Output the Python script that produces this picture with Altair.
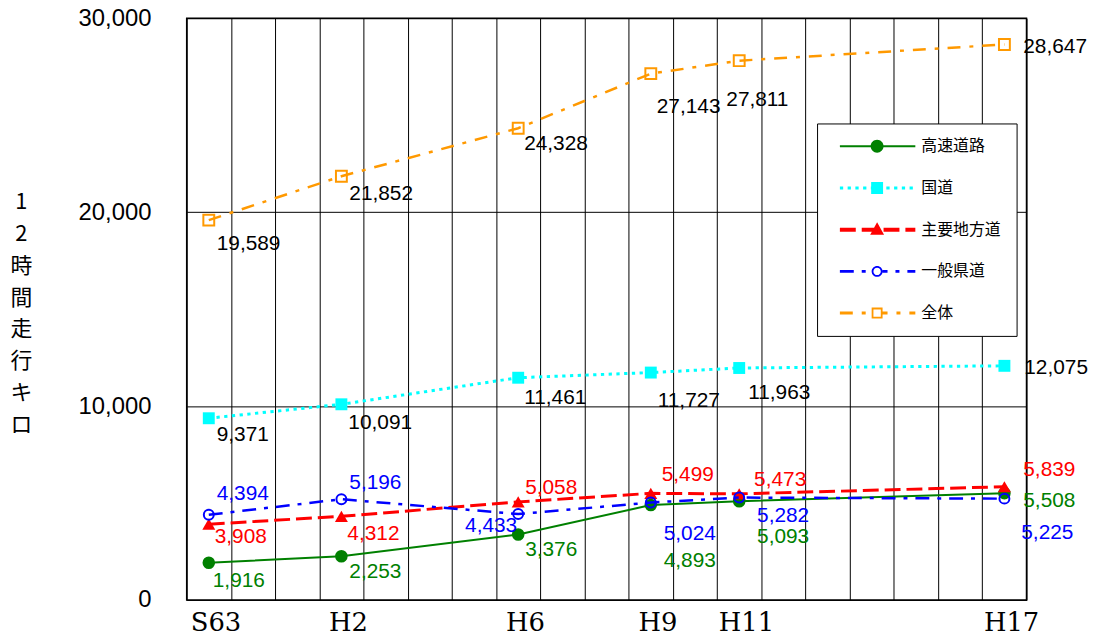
import altair as alt
import pandas as pd

# ---------------- data ----------------
SERIES = ["高速道路", "国道", "主要地方道", "一般県道", "全体"]
YEARS = ["S63", "H2", "H6", "H9", "H11", "H17"]
X_SLOTS = [0, 3, 7, 10, 12, 18]          # category slot of each survey year (19 slots)
N_SLOTS = 19

EXPRESSWAY = [1916, 2253, 3376, 4893, 5093, 5508]
NATIONAL = [9371, 10091, 11461, 11727, 11963, 12075]
MAJOR_LOCAL = [3908, 4312, 5058, 5499, 5473, 5839]
PREFECTURAL = [4394, 5196, 4433, 5024, 5282, 5225]
TOTAL = [19589, 21852, 24328, 27143, 27811, 28647]
VALUES = [EXPRESSWAY, NATIONAL, MAJOR_LOCAL, PREFECTURAL, TOTAL]

Y_TICKS = [0, 10000, 20000, 30000]
Y_TITLE = ["1", "2", "時", "間", "走", "行", "キ", "ロ"]

# ---------------- styles ----------------
COLORS = ["#008000", "#00FFFF", "#FF0000", "#0000FF", "#FF9900"]
LABEL_COLORS = ["#008000", "#000000", "#FF0000", "#0000FF", "#000000"]
LINE_WIDTH = [2, 3, 3, 2.5, 2.5]
DASHES = [[], [3.3, 4.5], [16, 6], [14, 8, 4, 8], [13, 9, 4, 9]]
MARKERS = [  # shape, filled, size, strokeWidth
    ("circle", True, 160, 0),
    ("square", True, 144, 0),
    ("triangle-up", True, 170, 0),
    ("circle", False, 100, 2),
    ("square", False, 120, 2),
]
# label placement (dx, dy, align) per series, per point
LABEL_POS = [
    [(4, 18, "left"), (8, 16, "left"), (7, 16, "left"), (13, 56, "left"), (18, 36, "left"), (19, 8, "left")],
    [(8, 17, "left"), (7, 19, "left"), (6, 20, "left"), (7, 29, "left"), (9, 25, "left"), (20, 2, "left")],
    [(6, 13, "left"), (6, 18, "left"), (7, -14, "left"), (11, -18, "left"), (15, -14, "left"), (19, -17, "left")],
    [(8, -21, "left"), (8, -16, "left"), (-1, 12, "right"), (13, 32, "left"), (18, 19, "left"), (17, 35, "left")],
    [(8, 24, "left"), (8, 18, "left"), (6, 16, "left"), (6, 34, "left"), (-13, 40, "left"), (19, 3, "left")],
]

JP = "Noto Sans CJK JP"
SANS = "Liberation Sans"
SERIF = "DejaVu Serif"

# ---------------- legend symbols (line + marker drawn as one filled path) ----------------
U = 6.0          # path unit in px for symbolSize 144
LEN = 76.0       # legend line length in px
MC = 37.5        # marker centre along the line


def f(v):
    return f"{v / U:.3f}"


def rect(x0, x1, h):
    return f"M{f(x0)},{f(-h)}H{f(x1)}V{f(h)}H{f(x0)}Z"


def dash_segments(pattern, length, skip=None):
    if not pattern:
        segs = [(0.0, length)]
    else:
        segs, pos, i = [], 0.0, 0
        while pos < length:
            end = min(pos + pattern[i % len(pattern)], length)
            if i % 2 == 0:
                segs.append((pos, end))
            pos, i = end, i + 1
    if skip:
        out = []
        for a, b in segs:
            if b <= skip[0] or a >= skip[1]:
                out.append((a, b))
            else:
                if a < skip[0]:
                    out.append((a, skip[0]))
                if b > skip[1]:
                    out.append((skip[1], b))
        segs = out
    return segs


def circle(cx, r, sweep):
    return (f"M{f(cx + r)},0A{f(r)} {f(r)} 0 1 {sweep} {f(cx - r)},0"
            f"A{f(r)} {f(r)} 0 1 {sweep} {f(cx + r)},0Z")


def legend_path(k):
    half = [1.0, 1.6, 2.0, 1.5, 1.5][k]
    shape = MARKERS[k][0]
    filled = MARKERS[k][1]
    skip = None if filled else (MC - 5.5, MC + 5.5)
    p = "".join(rect(a, b, half) for a, b in dash_segments(DASHES[k], LEN, skip))
    if shape == "circle" and filled:
        p += circle(MC, 6.5, 1)
    elif shape == "circle":
        p += circle(MC, 5.5, 1) + circle(MC, 3.7, 0)
    elif shape == "square" and filled:
        p += f"M{f(MC - 6)},{f(-6)}H{f(MC + 6)}V{f(6)}H{f(MC - 6)}Z"
    elif shape == "square":
        p += f"M{f(MC - 5.5)},{f(-5.5)}H{f(MC + 5.5)}V{f(5.5)}H{f(MC - 5.5)}Z"
        p += f"M{f(MC - 3.7)},{f(-3.7)}V{f(3.7)}H{f(MC + 3.7)}V{f(-3.7)}Z"
    else:
        p += f"M{f(MC)},{f(-7.5)}L{f(MC + 7)},{f(5)}L{f(MC - 7)},{f(5)}Z"
    return p


LEGEND_PATHS = [legend_path(k) for k in range(len(SERIES))]

# ---------------- table ----------------
rows = []
for s, vals in zip(SERIES, VALUES):
    for slot, yr, v in zip(X_SLOTS, YEARS, vals):
        rows.append({"series": s, "slot": slot, "year": yr, "value": v})
df = pd.DataFrame(rows)

# ---------------- axes ----------------
label_expr = " : ".join(
    f"datum.value == {slot - 0.5} ? '{yr}'" for slot, yr in zip(X_SLOTS, YEARS)
) + " : ''"

x_axis = alt.Axis(
    values=[i - 0.5 for i in range(N_SLOTS + 1)],
    grid=True, gridColor="black", gridOpacity=1, gridWidth=1,
    ticks=False, domain=False, title=None,
    labelExpr=label_expr, labelOffset=29, labelFont=SERIF, labelFontSize=26,
    labelColor="black", labelPadding=10, labelOverlap=False, labelFlush=False,
    labelBound=False,
)
y_axis = alt.Axis(
    values=Y_TICKS, labelExpr="format(datum.value, ',')", grid=True,
    gridColor="black", gridOpacity=1, gridWidth=1, ticks=False, domain=False,
    labelFont=SANS, labelFontSize=24, labelColor="black", labelPadding=36,
    title=Y_TITLE, titleAngle=0, titleX=-167, titleY=175, titleAlign="center",
    titleBaseline="top", titleFont=JP, titleFontSize=22, titleFontWeight="normal",
    titleLineHeight=32, titleColor="black",
)

X_ENC = alt.X("slot:Q", scale=alt.Scale(domain=[-0.5, N_SLOTS - 0.5], nice=False, zero=False), axis=x_axis)
Y_ENC = alt.Y("value:Q", scale=alt.Scale(domain=[Y_TICKS[0], Y_TICKS[-1]], nice=False), axis=y_axis)

base = alt.Chart(df)
layers = []

for k, s in enumerate(SERIES):
    line_kw = dict(color=COLORS[k], strokeWidth=LINE_WIDTH[k])
    if DASHES[k]:
        line_kw["strokeDash"] = DASHES[k]
    line = base.transform_filter(alt.datum.series == s).mark_line(**line_kw).encode(x=X_ENC, y=Y_ENC)
    shape, filled, size, sw = MARKERS[k]
    pt = base.transform_filter(alt.datum.series == s).mark_point(
        shape=shape, filled=filled, size=size, color=COLORS[k], opacity=1,
        strokeWidth=sw if sw else 1,
    ).encode(x=X_ENC, y=Y_ENC)
    if k == 4:
        layers += [pt, line]
    else:
        layers += [line, pt]

for k, s in enumerate(SERIES):
    for i, slot in enumerate(X_SLOTS):
        dx, dy, al = LABEL_POS[k][i]
        layers.append(
            base.transform_filter((alt.datum.series == s) & (alt.datum.slot == slot))
            .mark_text(dx=dx, dy=dy, align=al, baseline="middle", font=SANS,
                       fontSize=21, color=LABEL_COLORS[k])
            .encode(x=X_ENC, y=Y_ENC, text=alt.Text("value:Q", format=","))
        )

LEG = alt.Legend(
    title=None, orient="none", legendX=635, legendY=106, padding=15,
    fillColor="white", strokeColor="black", symbolSize=144, symbolStrokeWidth=0,
    symbolOffset=0, labelOffset=74, rowPadding=26, labelFont=JP, labelFontSize=16,
    labelColor="black", symbolOpacity=1,
)
legend_layer = base.transform_filter("false").mark_point(
    filled=True, opacity=1, size=144, strokeWidth=0
).encode(
    color=alt.Color("series:N", scale=alt.Scale(domain=SERIES, range=COLORS), legend=LEG),
    shape=alt.Shape("series:N", scale=alt.Scale(domain=SERIES, range=LEGEND_PATHS), legend=LEG),
)
layers.append(legend_layer)

chart = alt.layer(*layers).properties(
    width=846, height=586,
    padding={"left": 180, "top": 8, "right": 70, "bottom": 37},
    autosize=alt.AutoSizeParams(type="none"),
    background="white",
).configure_view(fill="#CCFFCC", stroke="black", strokeWidth=1.5)

chart.save("out.html", embed_options={"renderer": "svg", "actions": False})
